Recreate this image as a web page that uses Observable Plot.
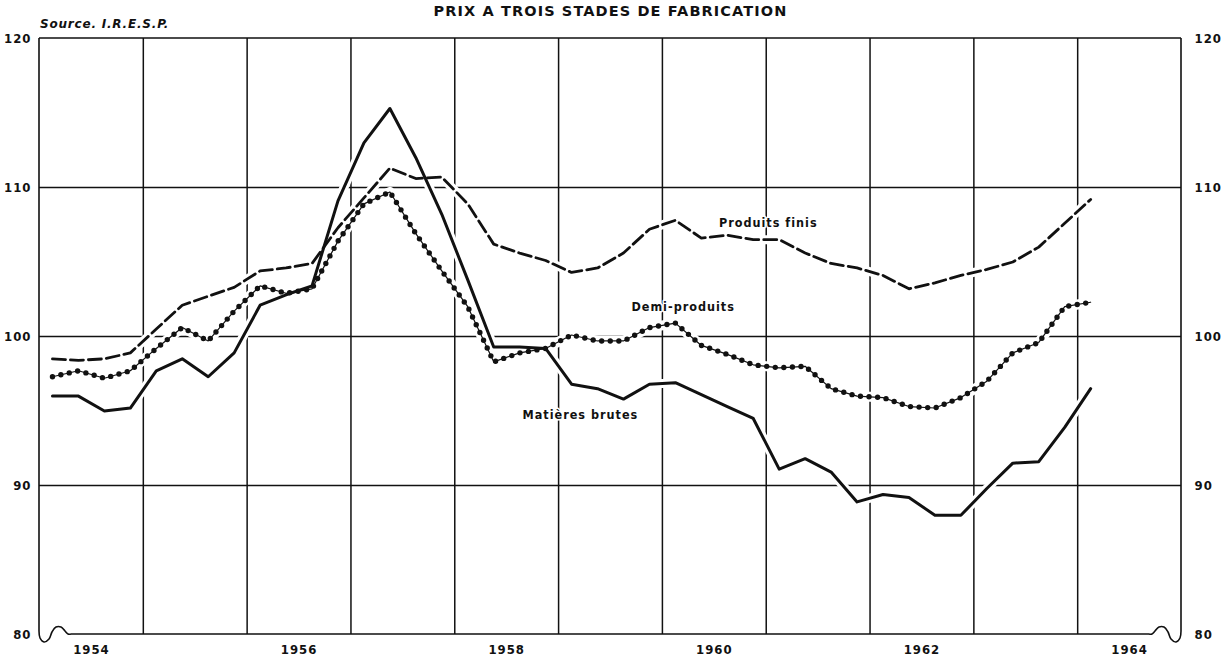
<!DOCTYPE html>
<html>
<head>
<meta charset="utf-8">
<script src="https://cdn.jsdelivr.net/npm/d3@7"></script>
<script src="https://cdn.jsdelivr.net/npm/@observablehq/plot@0.6"></script>
<style>
  body { margin: 0; background: #fff; }
  #wrap { width: 1221px; }
  #header { position: relative; height: 30px; width: 1221px; }
  #title { position: absolute; top: 3px; left: 0; width: 1221px; text-align: center;
    font-family: "DejaVu Sans", sans-serif; font-weight: bold; font-size: 14.5px; letter-spacing: 1.1px; color: #111; }
  #source { position: absolute; top: 17px; left: 40px;
    font-family: "DejaVu Sans", sans-serif; font-weight: bold; font-style: italic; font-size: 12px; letter-spacing: 0.8px; color: #111; }
</style>
</head>
<body>
<div id="wrap">
  <div id="header">
    <div id="title">PRIX A TROIS STADES DE FABRICATION</div>
    <div id="source">Source. I.R.E.S.P.</div>
  </div>
  <div id="chart"></div>
</div>
<script>
// Quarterly indices, Q1 1954 .. Q1 1964 (plotted at quarter midpoints)
const startYear = 1954;
const nQuarters = 41;
const matieresBrutes = [96.0, 96.0, 95.0, 95.2, 97.7, 98.5, 97.3, 98.9, 102.1, 102.8, 103.4, 109.1, 113.0, 115.3, 112.0, 108.2, 103.8, 99.3, 99.3, 99.2, 96.8, 96.5, 95.8, 96.8, 96.9, 96.1, 95.3, 94.5, 91.1, 91.8, 90.9, 88.9, 89.4, 89.2, 88.0, 88.0, 89.8, 91.5, 91.6, 93.9, 96.5];
const demiProduits = [97.3, 97.7, 97.2, 97.7, 99.2, 100.6, 99.7, 101.7, 103.4, 102.9, 103.2, 106.4, 108.9, 109.7, 106.9, 104.4, 102.0, 98.3, 98.9, 99.2, 100.1, 99.7, 99.7, 100.6, 100.9, 99.4, 98.8, 98.1, 97.9, 98.0, 96.5, 96.0, 95.9, 95.3, 95.2, 95.9, 97.0, 98.9, 99.6, 102.0, 102.3];
const produitsFinis = [98.5, 98.4, 98.5, 98.9, 100.5, 102.1, 102.7, 103.3, 104.4, 104.6, 104.9, 107.3, 109.3, 111.3, 110.6, 110.7, 108.9, 106.2, 105.6, 105.1, 104.3, 104.6, 105.6, 107.2, 107.8, 106.6, 106.8, 106.5, 106.5, 105.6, 104.9, 104.6, 104.1, 103.2, 103.6, 104.1, 104.5, 105.0, 106.0, 107.6, 109.2];

const yTicks = [80, 90, 100, 110, 120];
const yGrid = [90, 100, 110];
const yearGrid = [1955, 1956, 1957, 1958, 1959, 1960, 1961, 1962, 1963, 1964];
const yearLabels = [1954, 1956, 1958, 1960, 1962, 1964];
const seriesLabels = [
  {name: "Produits finis", x: 1961.02, y: 107.65},
  {name: "Demi-produits", x: 1960.2, y: 101.95},
  {name: "Matières brutes", x: 1959.21, y: 94.7}
];

const quarters = d3.range(nQuarters).map(i => startYear + i * 0.25 + 0.125);
const toRows = arr => arr.map((v, i) => ({x: quarters[i], v}));
const mb = toRows(matieresBrutes), dp = toRows(demiProduits), pf = toRows(produitsFinis);

const ink = "#111";
const font = "'DejaVu Sans Condensed', 'DejaVu Sans', sans-serif";

// frame with broken-axis squiggles at the bottom corners
function frameBreaks(index, scales, values, dims) {
  const X0 = scales.x(1954), X1 = scales.x(1965), Y0 = scales.y(80), YT = scales.y(120);
  const curl = [[0,-3],[1,4],[5,8],[10,5],[13,-2],[17,-7],[22,-7],[26,-3],[29,0],[32,0]];
  const line = d3.line().curve(d3.curveCatmullRom);
  const left = line(curl.map(([dx, dy]) => [X0 + dx, Y0 + dy]));
  const right = line(curl.map(([dx, dy]) => [X1 - dx, Y0 + dy]));
  const g = d3.create("svg:g").attr("fill", "none").attr("stroke", ink).attr("stroke-width", 1.6);
  g.append("path").attr("d", `M${X0},${YT}V${Y0 - 3}M${X1},${YT}V${Y0 - 3}M${X0},${YT}H${X1}M${X0 + 32},${Y0}H${X1 - 32}`);
  g.append("path").attr("d", left);
  g.append("path").attr("d", right);
  return g.node();
}

const chart = Plot.plot({
  width: 1221,
  height: 632,
  marginLeft: 39,
  marginRight: 40,
  marginTop: 8,
  marginBottom: 28,
  style: {fontFamily: font, background: "#fff", color: ink},
  x: {domain: [1954, 1965], axis: null},
  y: {domain: [80, 120], axis: null},
  marks: [
    Plot.ruleX(yearGrid, {stroke: ink, strokeWidth: 1.5}),
    Plot.ruleY(yGrid, {stroke: ink, strokeWidth: 1.5}),
    frameBreaks,
    // white halos
    Plot.line(pf, {x: "x", y: "v", stroke: "#fff", strokeWidth: 9}),
    Plot.line(dp, {x: "x", y: "v", stroke: "#fff", strokeWidth: 10}),
    Plot.line(mb, {x: "x", y: "v", stroke: "#fff", strokeWidth: 9}),
    // series
    Plot.line(pf, {x: "x", y: "v", stroke: ink, strokeWidth: 2.8, strokeDasharray: "13,5"}),
    Plot.line(dp, {x: "x", y: "v", stroke: ink, strokeWidth: 1.2}),
    Plot.line(dp, {x: "x", y: "v", stroke: ink, strokeWidth: 5.4, strokeDasharray: "0,8.6", strokeLinecap: "round"}),
    Plot.line(mb, {x: "x", y: "v", stroke: ink, strokeWidth: 3}),
    Plot.text(seriesLabels, {x: "x", y: "y", text: "name", fontSize: 12.5, fontWeight: "bold", fill: ink,
      stroke: "#fff", strokeWidth: 3}),
    Plot.axisY(yTicks, {anchor: "left", tickSize: 0, tickPadding: 8, label: null, fontSize: 13, fontWeight: "bold"}),
    Plot.axisY(yTicks, {anchor: "right", tickSize: 0, tickPadding: 13, label: null, fontSize: 13, fontWeight: "bold"}),
    Plot.axisX(yearLabels.map(d => d + 0.5), {anchor: "bottom", tickSize: 0, tickPadding: 10, label: null,
      tickFormat: d => String(Math.floor(d)), fontSize: 13, fontWeight: "bold"})
  ]
});
chart.querySelectorAll("text").forEach(t => t.style.letterSpacing = "1px");
document.getElementById("chart").appendChild(chart);
</script>
</body>
</html>
